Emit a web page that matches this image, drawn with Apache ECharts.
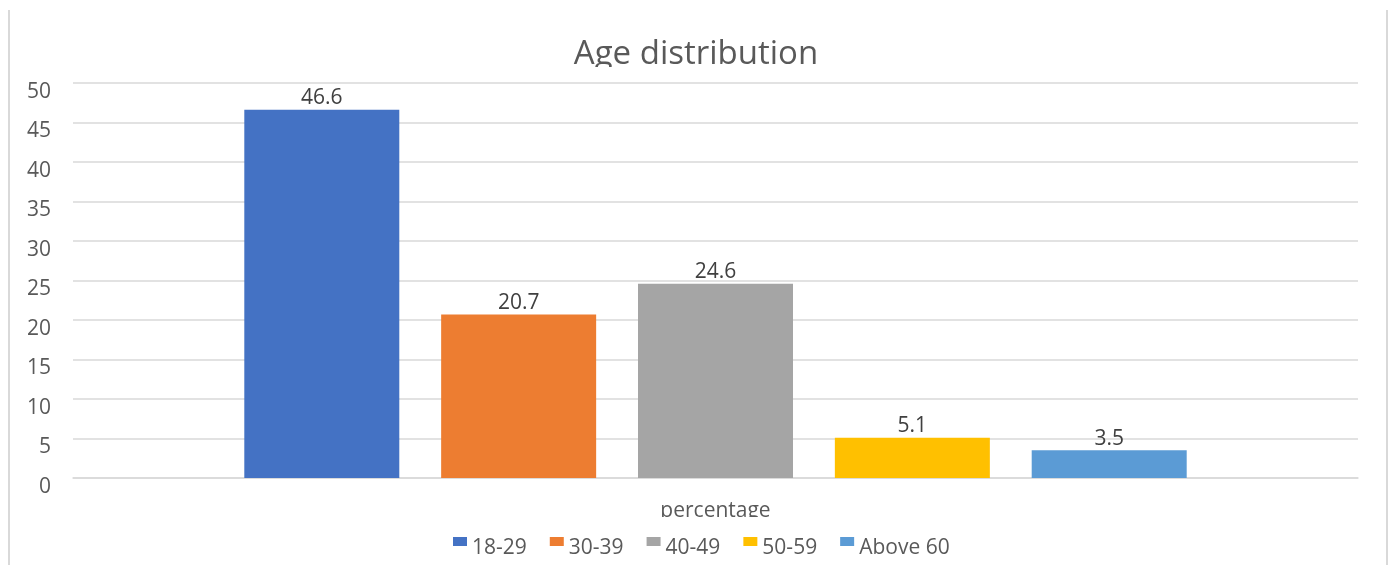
<!DOCTYPE html>
<html><head><meta charset="utf-8">
<script src="https://cdn.jsdelivr.net/npm/echarts@6/dist/echarts.min.js"></script>
<style>html,body{margin:0;padding:0;background:#fff}#c{width:1392px;height:565px}</style>
</head><body><div id="c"></div>
<script>
const categories = ['percentage'];
const seriesNames = ['18-29', '30-39', '40-49', '50-59', 'Above 60'];
const seriesValues = [46.6, 20.7, 24.6, 5.1, 3.5];
const colors = ['#4472C4', '#ED7D31', '#A5A5A5', '#FFC000', '#5B9BD5'];
const FONT = 'Open Sans';
const chart = echarts.init(document.getElementById('c'));
chart.setOption({
  animation: false,
  title: { text: 'Age distribution', left: 'center', top: 33, textStyle: { fontFamily: FONT, fontSize: 33, fontWeight: 'normal', color: '#595959' } },
  legend: { bottom: 1, left: 448, itemWidth: 14, itemHeight: 9, itemGap: 23, icon: 'rect',
    formatter: '{a|{name}}',
    textStyle: { fontFamily: FONT, fontSize: 21, color: '#595959',
      rich: { a: { fontFamily: FONT, fontSize: 21, color: '#595959', padding: [14, 0, 0, 0] } } },
    data: seriesNames },
  grid: { left: 73, right: 34, top: 83, bottom: 87 },
  xAxis: { type: 'category', data: categories, axisTick: { show: false },
    axisLine: { lineStyle: { color: '#d9d9d9', width: 1.5 } },
    axisLabel: { fontFamily: FONT, fontSize: 21, color: '#595959', margin: 23 } },
  yAxis: { type: 'value', min: 0, max: 50, interval: 5,
    axisLabel: { fontFamily: FONT, fontSize: 21, color: '#595959', margin: 22, verticalAlign: 'top', lineHeight: 18 },
    splitLine: { lineStyle: { color: '#d9d9d9', width: 1.5 } } },
  graphic: [
    { type: 'line', shape: { x1: 9, y1: 10, x2: 9, y2: 565 }, style: { stroke: '#d9d9d9', lineWidth: 2 } },
    { type: 'line', shape: { x1: 1387, y1: 10, x2: 1387, y2: 565 }, style: { stroke: '#d9d9d9', lineWidth: 2 } },
    { type: 'rect', z: 100, shape: { x: 540, y: 67, width: 320, height: 15 }, style: { fill: '#fff' } },
    { type: 'rect', z: 100, shape: { x: 630, y: 517, width: 160, height: 14 }, style: { fill: '#fff' } }
  ],
  series: seriesNames.map((n, i) => ({
    name: n, type: 'bar', barWidth: 155, barGap: '27%',
    data: [seriesValues[i]], itemStyle: { color: colors[i] },
    label: { show: true, position: 'top', distance: 1, fontFamily: FONT, fontSize: 21, color: '#404040' }
  }))
});
</script></body></html>
